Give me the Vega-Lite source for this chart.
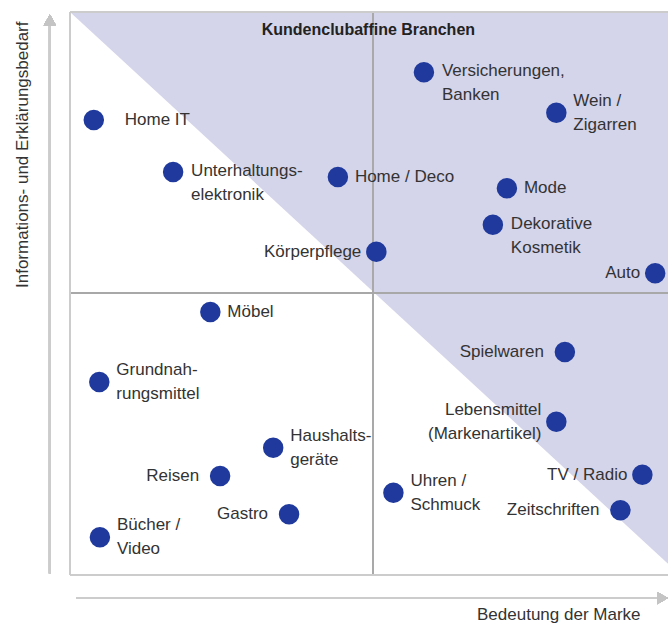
{
  "$schema": "https://vega.github.io/schema/vega-lite/v6.json",
  "width": 598,
  "height": 563,
  "autosize": {"type": "none"},
  "padding": {"left": 70, "top": 12, "right": 0, "bottom": 48},
  "background": "white",
  "config": {"view": {"stroke": null}, "font": "Liberation Sans"},
  "datasets": {
    "branchen": [
      {"label": "Home IT", "x": 0.39, "y": 8.08, "pos": "rFar"},
      {"label": "Unterhaltungs-\nelektronik", "x": 1.69, "y": 7.16, "pos": "rTop"},
      {"label": "Home / Deco", "x": 4.39, "y": 7.07, "pos": "r"},
      {"label": "Versicherungen,\nBanken", "x": 5.80, "y": 8.93, "pos": "rTop"},
      {"label": "Wein /\nZigarren", "x": 7.97, "y": 8.21, "pos": "r2"},
      {"label": "Mode", "x": 7.16, "y": 6.87, "pos": "r"},
      {"label": "Dekorative\nKosmetik", "x": 6.93, "y": 6.22, "pos": "rTop"},
      {"label": "Körperpflege", "x": 5.02, "y": 5.74, "pos": "l"},
      {"label": "Auto", "x": 9.59, "y": 5.36, "pos": "l"},
      {"label": "Möbel", "x": 2.30, "y": 4.67, "pos": "r"},
      {"label": "Spielwaren", "x": 8.11, "y": 3.96, "pos": "lFar"},
      {"label": "Grundnah-\nrungsmittel", "x": 0.48, "y": 3.43, "pos": "r2"},
      {"label": "Lebensmittel\n(Markenartikel)", "x": 7.97, "y": 2.72, "pos": "l2"},
      {"label": "Haushalts-\ngeräte", "x": 3.33, "y": 2.26, "pos": "r2"},
      {"label": "Reisen", "x": 2.46, "y": 1.76, "pos": "lFar"},
      {"label": "TV / Radio", "x": 9.38, "y": 1.78, "pos": "l"},
      {"label": "Uhren /\nSchmuck", "x": 5.30, "y": 1.46, "pos": "r2"},
      {"label": "Gastro", "x": 3.59, "y": 1.08, "pos": "lFar"},
      {"label": "Zeitschriften", "x": 9.02, "y": 1.15, "pos": "lFar"},
      {"label": "Bücher /\nVideo", "x": 0.49, "y": 0.67, "pos": "r2"}
    ],
    "zone": [{"x": 0, "y": 10}, {"x": 10, "y": 0}],
    "heading": [{"x": 4.89, "y": 9.68, "text": "Kundenclubaffine Branchen"}]
  },
  "data": {"name": "branchen"},
  "encoding": {
    "x": {"type": "quantitative", "scale": {"domain": [0, 9.8], "nice": false, "zero": false},
      "axis": {"domain": false, "ticks": false, "labels": false, "grid": false, "title": "Bedeutung der Marke",
        "titleFont": "Liberation Sans", "titleFontSize": 17, "titleFontWeight": "normal", "titleColor": "#333333",
        "titleAlign": "right", "titleAnchor": null, "titleX": 570, "titleY": 44, "titleBaseline": "alphabetic"}},
    "y": {"type": "quantitative", "scale": {"domain": [0, 10], "nice": false, "zero": false},
      "axis": {"domain": false, "ticks": false, "labels": false, "grid": false, "title": "Informations- und Erklärungsbedarf",
        "titleFont": "Liberation Sans", "titleFontSize": 17, "titleFontWeight": "normal", "titleColor": "#333333",
        "titleAngle": -90, "titleAlign": "right", "titleX": -48, "titleY": 9, "titleBaseline": "middle"}}
  },
  "layer": [
    {
      "data": {"name": "zone"},
      "mark": {"type": "area", "color": "#d4d4ea", "clip": true, "opacity": 1},
      "encoding": {"x": {"field": "x"}, "y": {"field": "y"}, "y2": {"datum": 10}}
    },
    {
      "mark": {"type": "rule", "color": "#a9a9a9", "strokeWidth": 1},
      "encoding": {"x": {"datum": 4.97}, "y": {"datum": 0}, "y2": {"datum": 10}}
    },
    {
      "mark": {"type": "rule", "color": "#a9a9a9", "strokeWidth": 1},
      "encoding": {"y": {"datum": 5.01}, "x": {"datum": 0}, "x2": {"datum": 9.8}}
    },
    {
      "mark": {"type": "rule", "color": "#cccccc", "strokeWidth": 2},
      "encoding": {"y": {"datum": 10}, "x": {"datum": 0}, "x2": {"datum": 9.8}}
    },
    {
      "mark": {"type": "rule", "color": "#cccccc", "strokeWidth": 2},
      "encoding": {"y": {"datum": 0}, "x": {"datum": 0}, "x2": {"datum": 9.8}}
    },
    {
      "mark": {"type": "rule", "color": "#cccccc", "strokeWidth": 2},
      "encoding": {"x": {"datum": 0}, "y": {"datum": 0}, "y2": {"datum": 10}}
    },
    {
      "mark": {"type": "rule", "color": "#cccccc", "strokeWidth": 2, "clip": false},
      "encoding": {"x": {"datum": -0.33}, "y": {"datum": 0.03}, "y2": {"datum": 9.75}}
    },
    {
      "mark": {"type": "rule", "color": "#cccccc", "strokeWidth": 2, "clip": false},
      "encoding": {"y": {"datum": -0.41}, "x": {"datum": 0.11}, "x2": {"datum": 9.62}}
    },
    {
      "mark": {"type": "point", "shape": "triangle-up", "filled": true, "color": "#c4c4c4", "size": 150, "opacity": 1, "clip": false},
      "encoding": {"x": {"datum": -0.33}, "y": {"datum": 9.86}}
    },
    {
      "mark": {"type": "point", "shape": "triangle-right", "filled": true, "color": "#c4c4c4", "size": 150, "opacity": 1, "clip": false},
      "encoding": {"x": {"datum": 9.71}, "y": {"datum": -0.41}}
    },
    {
      "mark": {"type": "circle", "color": "#1f3a9c", "size": 420, "opacity": 1, "clip": false},
      "encoding": {"x": {"field": "x"}, "y": {"field": "y"}}
    },
    {
      "transform": [{"filter": "datum.pos === 'r'"}],
      "mark": {"type": "text", "align": "left", "baseline": "middle", "dx": 17, "dy": 0, "font": "Liberation Sans", "fontSize": 17, "lineHeight": 24, "lineBreak": "\n", "color": "#333333"},
      "encoding": {"x": {"field": "x"}, "y": {"field": "y"}, "text": {"field": "label"}}
    },
    {
      "transform": [{"filter": "datum.pos === 'r2'"}],
      "mark": {"type": "text", "align": "left", "baseline": "middle", "dx": 17, "dy": -12, "font": "Liberation Sans", "fontSize": 17, "lineHeight": 24, "lineBreak": "\n", "color": "#333333"},
      "encoding": {"x": {"field": "x"}, "y": {"field": "y"}, "text": {"field": "label"}}
    },
    {
      "transform": [{"filter": "datum.pos === 'rFar'"}],
      "mark": {"type": "text", "align": "left", "baseline": "middle", "dx": 31, "font": "Liberation Sans", "fontSize": 17, "lineHeight": 24, "lineBreak": "\n", "color": "#333333"},
      "encoding": {"x": {"field": "x"}, "y": {"field": "y"}, "text": {"field": "label"}}
    },
    {
      "transform": [{"filter": "datum.pos === 'rTop'"}],
      "mark": {"type": "text", "align": "left", "baseline": "top", "dx": 18, "dy": -9, "font": "Liberation Sans", "fontSize": 17, "lineHeight": 24, "lineBreak": "\n", "color": "#333333"},
      "encoding": {"x": {"field": "x"}, "y": {"field": "y"}, "text": {"field": "label"}}
    },
    {
      "transform": [{"filter": "datum.pos === 'l'"}],
      "mark": {"type": "text", "align": "right", "baseline": "middle", "dx": -15, "font": "Liberation Sans", "fontSize": 17, "lineHeight": 24, "lineBreak": "\n", "color": "#333333"},
      "encoding": {"x": {"field": "x"}, "y": {"field": "y"}, "text": {"field": "label"}}
    },
    {
      "transform": [{"filter": "datum.pos === 'l2'"}],
      "mark": {"type": "text", "align": "right", "baseline": "middle", "dx": -15, "dy": -12, "font": "Liberation Sans", "fontSize": 17, "lineHeight": 24, "lineBreak": "\n", "color": "#333333"},
      "encoding": {"x": {"field": "x"}, "y": {"field": "y"}, "text": {"field": "label"}}
    },
    {
      "transform": [{"filter": "datum.pos === 'lFar'"}],
      "mark": {"type": "text", "align": "right", "baseline": "middle", "dx": -21, "font": "Liberation Sans", "fontSize": 17, "lineHeight": 24, "lineBreak": "\n", "color": "#333333"},
      "encoding": {"x": {"field": "x"}, "y": {"field": "y"}, "text": {"field": "label"}}
    },
    {
      "data": {"name": "heading"},
      "mark": {"type": "text", "align": "center", "baseline": "middle", "font": "Liberation Sans", "fontSize": 16, "fontWeight": "bold", "color": "#222222"},
      "encoding": {"x": {"field": "x"}, "y": {"field": "y"}, "text": {"field": "text"}}
    }
  ]
}
